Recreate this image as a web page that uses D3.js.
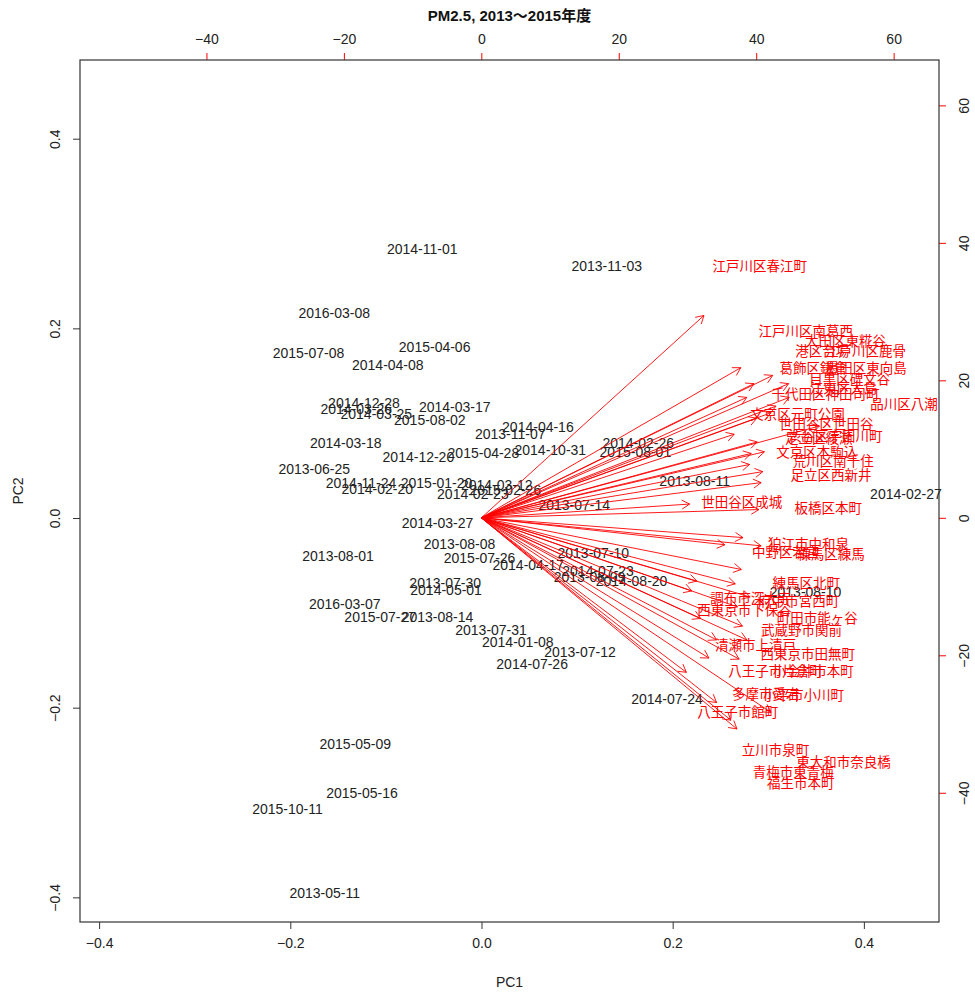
<!DOCTYPE html>
<html>
<head>
<meta charset="utf-8">
<script src="https://cdn.jsdelivr.net/npm/d3@7"></script>
<style>
  body { margin: 0; background: #fff; }
  text { font-family: "Liberation Sans", Arial, "Noto Sans CJK JP", sans-serif; }
</style>
</head>
<body>
<div id="container-svg"></div>
<script>

var obs_labels = ["2014-11-01","2013-11-03","2016-03-08","2015-07-08","2015-04-06","2014-04-08",
    "2014-12-28","2014-03-26","2014-03-25","2014-03-17","2015-08-02","2014-04-16","2013-11-07",
    "2014-03-18","2014-12-20","2015-04-28","2014-10-31","2014-02-26","2015-08-01","2013-06-25",
    "2014-11-24","2015-01-20","2014-02-20","2014-03-12","2014-02-23","2015-02-26","2013-07-14",
    "2013-08-11","2014-02-27","2014-03-27","2013-08-08","2013-08-01","2015-07-26","2013-07-10",
    "2014-04-17","2014-07-23","2013-08-09","2014-08-20","2013-07-30","2014-05-01","2013-08-10",
    "2016-03-07","2015-07-27","2013-08-14","2013-07-31","2014-01-08","2013-07-12","2014-07-26",
    "2014-07-24","2015-05-09","2015-05-16","2015-10-11","2013-05-11"];
var obs_pc1 = [-0.062,0.131,-0.154,-0.181,-0.049,-0.098,
    -0.123,-0.131,-0.110,-0.028,-0.054,0.059,0.030,
    -0.142,-0.066,0.002,0.072,0.164,0.161,-0.175,
    -0.126,-0.047,-0.109,0.016,-0.009,0.025,0.097,
    0.223,0.444,-0.046,-0.023,-0.150,-0.002,0.117,
    0.049,0.122,0.113,0.157,-0.038,-0.037,0.339,
    -0.143,-0.106,-0.046,0.010,0.038,0.103,0.053,
    0.194,-0.132,-0.125,-0.203,-0.164];
var obs_pc2 = [0.284,0.266,0.216,0.174,0.180,0.161,
    0.121,0.115,0.110,0.117,0.103,0.096,0.089,
    0.079,0.064,0.069,0.072,0.079,0.070,0.052,
    0.037,0.037,0.031,0.035,0.025,0.030,0.014,
    0.039,0.025,-0.005,-0.027,-0.040,-0.042,-0.037,
    -0.050,-0.056,-0.062,-0.066,-0.068,-0.076,-0.078,
    -0.091,-0.104,-0.104,-0.118,-0.131,-0.141,-0.154,
    -0.191,-0.238,-0.290,-0.307,-0.395];

// variable loadings (station labels), top/right axis units
var var_labels = ["江戸川区春江町","江戸川区南葛西","大田区東糀谷","港区台場","江戸川区鹿骨",
    "葛飾区鎌倉","墨田区東向島","目黒区碑文谷","江東区大島","千代田区神田司町","品川区八潮",
    "文京区元町公園","世田谷区世田谷","渋谷区宇田川町","足立区綾瀬","文京区本駒込","荒川区南千住",
    "足立区西新井","世田谷区成城","板橋区本町","狛江市中和泉","中野区若宮","練馬区練馬",
    "練馬区北町","調布市深大寺","府中市宮西町","西東京市下保谷","町田市能ヶ谷","武蔵野市関前",
    "清瀬市上清戸","西東京市田無町","八王子市片倉町","小金井市本町","多摩市愛宕","小平市小川町",
    "八王子市館町","立川市泉町","東大和市奈良橋","青梅市東青梅","福生市本町"];
var var_pc1 = [40.5,47.2,53.0,49.6,55.9,
    48.3,56.0,53.6,52.7,50.1,61.5,
    46.0,50.2,51.5,49.1,48.8,51.2,
    50.9,37.9,50.5,47.6,44.3,50.9,
    47.3,39.2,46.2,38.3,48.9,46.6,
    39.9,47.5,42.8,48.3,41.4,46.9,
    37.3,42.8,52.7,45.4,46.5];
var var_pc2 = [36.8,27.3,25.9,24.4,24.4,
    21.9,21.9,20.3,19.1,18.1,16.7,
    15.2,13.8,12.0,11.7,9.7,8.4,
    6.4,2.5,1.5,-3.6,-4.9,-5.1,
    -9.4,-11.5,-12.0,-13.3,-14.4,-16.2,
    -18.3,-19.7,-22.2,-22.2,-25.5,-25.7,
    -28.1,-33.6,-35.4,-36.8,-38.4];

var ticks_bottom = [-0.4, -0.2, 0.0, 0.2, 0.4],
    ticks_left = [-0.4, -0.2, 0.0, 0.2, 0.4],
    ticks_top = [-40, -20, 0, 20, 40, 60],
    ticks_right = [-40, -20, 0, 20, 40, 60];

var title_txt = "PM2.5, 2013～2015年度";

// *********************** DISPLAY VARS ***********************
var svg_width = 975,
    svg_height = 992,
    box = {left: 80, right: 939, top: 60, bottom: 922},
    col_obs = "#222",
    col_var = "#ff0000",
    font_size = 14,
    arrow_len = 9;

var svg = d3.select("#container-svg").append("svg")
    .attr("width", svg_width)
    .attr("height", svg_height);

// ************************* SCALES ***************************
var x = d3.scaleLinear().domain([-0.42, 0.4786]).range([box.left, box.right]);
var y = d3.scaleLinear().domain([-0.426, 0.483]).range([box.bottom, box.top]);
var x2 = d3.scaleLinear().domain([-58.4, 66.6]).range([box.left, box.right]);
var y2 = d3.scaleLinear().domain([-58.8, 66.6]).range([box.bottom, box.top]);

// ************************* AXES *****************************
function style_axis(g, tick_col, label_col) {
    g.select(".domain").remove();
    g.selectAll(".tick line").attr("stroke", tick_col);
    g.selectAll(".tick text")
        .attr("fill", label_col)
        .style("font-size", font_size + "px")
        .style("font-family", '"Liberation Sans", Arial, sans-serif');
}

var fmt1 = d3.format(".1f");

var ax_b = svg.append("g")
    .attr("transform", "translate(0," + box.bottom + ")")
    .call(d3.axisBottom(x).tickValues(ticks_bottom).tickFormat(fmt1).tickSize(7).tickPadding(9));
style_axis(ax_b, "#333", col_obs);

var ax_l = svg.append("g")
    .attr("transform", "translate(" + box.left + ",0)")
    .call(d3.axisLeft(y).tickValues(ticks_left).tickFormat(fmt1).tickSize(7).tickPadding(9));
style_axis(ax_l, "#333", col_obs);
ax_l.selectAll(".tick text")
    .attr("transform", "rotate(-90)")
    .attr("x", 0).attr("y", -20)
    .attr("dy", "0em")
    .attr("text-anchor", "middle");

var ax_t = svg.append("g")
    .attr("transform", "translate(0," + box.top + ")")
    .call(d3.axisTop(x2).tickValues(ticks_top).tickFormat(d3.format("d")).tickSize(7).tickPadding(9));
style_axis(ax_t, col_var, col_obs);

var ax_r = svg.append("g")
    .attr("transform", "translate(" + box.right + ",0)")
    .call(d3.axisRight(y2).tickValues(ticks_right).tickFormat(d3.format("d")).tickSize(7).tickPadding(9));
style_axis(ax_r, col_var, col_obs);
ax_r.selectAll(".tick text")
    .attr("transform", "rotate(-90)")
    .attr("x", 0).attr("y", 30)
    .attr("dy", "0em")
    .attr("text-anchor", "middle");

// box
svg.append("rect")
    .attr("x", box.left).attr("y", box.top)
    .attr("width", box.right - box.left)
    .attr("height", box.bottom - box.top)
    .attr("fill", "none")
    .attr("stroke", "#333")
    .attr("stroke-width", 1.2);

// titles
svg.append("text")
    .attr("x", (box.left + box.right) / 2).attr("y", 21)
    .attr("text-anchor", "middle")
    .style("font-size", "15px").style("font-weight", "bold")
    .attr("fill", "#111")
    .text(title_txt);

svg.append("text")
    .attr("x", (box.left + box.right) / 2).attr("y", 987)
    .attr("text-anchor", "middle")
    .style("font-size", font_size + "px")
    .attr("fill", col_obs)
    .text("PC1");

svg.append("text")
    .attr("transform", "translate(23," + ((box.top + box.bottom) / 2) + ") rotate(-90)")
    .attr("text-anchor", "middle")
    .style("font-size", font_size + "px")
    .attr("fill", col_obs)
    .text("PC2");

// ************************ OBSERVATIONS ***********************
for (i = 0; i < obs_labels.length; i++) {
    svg.append("text")
        .attr("class", "obs")
        .attr("x", x(obs_pc1[i]))
        .attr("y", y(obs_pc2[i]))
        .attr("text-anchor", "middle")
        .attr("dominant-baseline", "central")
        .style("font-size", font_size + "px")
        .attr("fill", col_obs)
        .text(obs_labels[i]);
}

// ************************** ARROWS ***************************
var x0 = x2(0), y0 = y2(0);
for (i = 0; i < var_labels.length; i++) {
    // R biplot: arrows go to 0.8 of the label position
    var xe = x2(var_pc1[i] * 0.8),
        ye = y2(var_pc2[i] * 0.8);
    var ang = Math.atan2(ye - y0, xe - x0);

    svg.append("line")
        .attr("class", "arrows")
        .attr("x1", x0).attr("y1", y0)
        .attr("x2", xe).attr("y2", ye)
        .attr("stroke", col_var)
        .attr("stroke-width", 0.9);

    var head = [ang + Math.PI * 5 / 6, ang - Math.PI * 5 / 6];
    for (k = 0; k < head.length; k++) {
        svg.append("line")
            .attr("x1", xe).attr("y1", ye)
            .attr("x2", xe + arrow_len * Math.cos(head[k]))
            .attr("y2", ye + arrow_len * Math.sin(head[k]))
            .attr("stroke", col_var)
            .attr("stroke-width", 0.9);
    }
}

for (i = 0; i < var_labels.length; i++) {
    svg.append("text")
        .attr("class", "varLabels")
        .attr("x", x2(var_pc1[i]))
        .attr("y", y2(var_pc2[i]))
        .attr("text-anchor", "middle")
        .attr("dominant-baseline", "central")
        .style("font-size", "13.5px")
        .style("font-family", '"Noto Sans CJK JP", sans-serif')
        .attr("fill", col_var)
        .text(var_labels[i]);
}

</script>
</body>
</html>
